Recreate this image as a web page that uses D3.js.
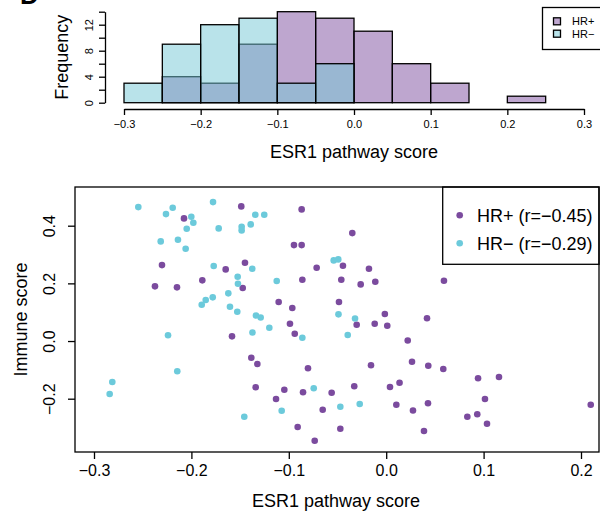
<!DOCTYPE html>
<html>
<head>
<meta charset="utf-8">
<script src="https://cdn.jsdelivr.net/npm/d3@7"></script>
<style>
  html, body { margin: 0; padding: 0; background: #fff; }
  svg { display: block; }
  text { font-family: "Liberation Sans", Arial, Helvetica, sans-serif; fill: #000; }
</style>
</head>
<body>
<svg id="chart" width="600" height="513"></svg>
<script>
// ---------- Histogram data (ESR1 pathway score, bin width 0.05) ----------
const binWidth = 0.05;
const hrPosBins   = [-0.25, -0.2, -0.15, -0.1, -0.05, 0, 0.05, 0.1, 0.15, 0.2];
const hrPosCounts = [4, 3, 9, 14, 13, 11, 6, 3, 0, 1];
const hrNegBins   = [-0.3, -0.25, -0.2, -0.15, -0.1, -0.05];
const hrNegCounts = [3, 9, 12, 13, 3, 6];
const histXTicks = [-0.3, -0.2, -0.1, 0, 0.1, 0.2, 0.3];
const histYTicks = [0, 2, 4, 6, 8, 10, 12, 14];
const histYLabels = [0, 4, 8, 12];

// ---------- Scatter data (ESR1 pathway score vs Immune score) ----------
const hrPosX = [-0.1488,-0.2076,-0.0868,-0.0348,-0.0947,-0.0868,-0.2302,-0.1648,-0.1450,-0.0444,
  -0.0714,-0.0177,-0.2374,-0.2148,-0.1888,-0.1473,-0.0861,-0.0461,-0.0262,-0.0112,
  -0.1104,-0.0964,-0.0485,-0.0014,0.0593,0.0419,0.0221,0.0265,0.0432,0.0586,
  0.0137,0.0943,0.1158,0.1014,0.0429,0.0275,0.0833,0.0935,0.1035,0.0388,
  0.2100,-0.0988,-0.0939,-0.0303,-0.0118,0.0011,-0.1385,-0.1323,-0.0803,-0.0156,
  -0.1340,-0.1046,-0.1131,-0.0854,-0.0560,-0.0328,-0.0652,0.0039,0.0104,-0.0909,
  -0.0471,-0.0734,-0.1583,0.0750];
const hrPosY = [0.4669,0.4253,0.4565,0.3743,0.3328,0.3328,0.2634,0.2485,0.2714,0.2610,
  0.2541,0.2506,0.1896,0.1861,0.2104,0.1837,0.2125,0.2125,0.1965,0.2055,
  0.1352,0.1144,0.1352,0.0936,0.2090,0.0790,0.0017,-0.0717,-0.0856,-0.0971,
  -0.1445,-0.1293,-0.1248,-0.2010,-0.2159,-0.2409,-0.2624,-0.2541,-0.2867,-0.3120,
  -0.2208,0.0600,0.0253,0.0565,0.0600,0.0530,-0.0579,-0.0797,-0.0946,-0.0842,
  -0.1605,-0.1688,-0.2010,-0.1778,-0.1792,-0.1570,-0.2381,-0.1594,-0.2208,-0.2981,
  -0.3040,-0.3456,0.0163,0.3300];
const hrNegX = [-0.2545,-0.2261,-0.2192,-0.1778,-0.2001,-0.1980,-0.2048,-0.1720,-0.1484,-0.1484,
  -0.1344,-0.1391,-0.1252,-0.2315,-0.2138,-0.2059,-0.1771,-0.1375,-0.1525,-0.1522,
  -0.1621,-0.1781,-0.1853,-0.1894,-0.1604,-0.1529,-0.1337,-0.1289,-0.1124,-0.0539,
  -0.0492,-0.0490,-0.0320,-0.1373,-0.1200,-0.0861,-0.0395,-0.1073,-0.0744,-0.0471,
  -0.0272,-0.2240,-0.2145,-0.2812,-0.2839,-0.1457];
const hrNegY = [0.4645,0.4402,0.4620,0.4818,0.4308,0.4100,0.3893,0.3906,0.3962,0.3837,
  0.4378,0.4045,0.4378,0.3456,0.3511,0.3199,0.2600,0.2506,0.2229,0.1986,
  0.1653,0.1515,0.1421,0.1258,0.1189,0.1016,0.0884,0.0815,0.2080,0.2797,
  0.2832,0.0925,0.0780,0.0295,0.0461,0.0114,0.0208,-0.2416,-0.1640,-0.2277,
  -0.2184,0.0198,-0.1050,-0.1421,-0.1837,-0.2624];
const scatterXTicks = [-0.3, -0.2, -0.1, 0, 0.1, 0.2];
const scatterYTicks = [-0.2, 0, 0.2, 0.4];
const legendLabels = ["HR+ (r=\u22120.45)", "HR\u2212 (r=\u22120.29)"];
const histLegendLabels = ["HR+", "HR\u2212"];

// ---------- Colours ----------
const histPosFill = "rgba(125,77,159,0.5)";
const histNegFill = "rgba(115,199,213,0.5)";
const ptPos = "#7b4b9e";
const ptNeg = "#6ccadb";

const svg = d3.select("#chart");
const fmt = d3.format(".1f");

// Panel label (cut off at top)
svg.append("text").attr("x", 20).attr("y", 4).attr("font-size", 26)
  .attr("font-weight", "bold").text("D");

// ================= HISTOGRAM =================
const hx = d3.scaleLinear([-0.3, 0.3], [124, 584]);
const hy = d3.scaleLinear([0, 14], [102.7, 11.7]);
const gh = svg.append("g");

const posData = hrPosBins.map((b, i) => ({x0: b, n: hrPosCounts[i]}));
const negData = hrNegBins.map((b, i) => ({x0: b, n: hrNegCounts[i]}));

gh.selectAll("rect.pos").data(posData).join("rect").attr("class", "pos")
  .attr("x", d => hx(d.x0)).attr("width", d => hx(d.x0 + binWidth) - hx(d.x0))
  .attr("y", d => hy(d.n)).attr("height", d => hy(0) - hy(d.n))
  .attr("fill", histPosFill).attr("stroke", "#000").attr("stroke-width", 1.3);
gh.selectAll("rect.neg").data(negData).join("rect").attr("class", "neg")
  .attr("x", d => hx(d.x0)).attr("width", d => hx(d.x0 + binWidth) - hx(d.x0))
  .attr("y", d => hy(d.n)).attr("height", d => hy(0) - hy(d.n))
  .attr("fill", histNegFill).attr("stroke", "#000").attr("stroke-width", 1.3);

// x axis
const hxAxis = gh.append("g").attr("transform", "translate(0,109)")
  .call(d3.axisBottom(hx).tickValues(histXTicks).tickFormat(fmt).tickSize(6).tickSizeOuter(0).tickPadding(5));
hxAxis.selectAll("path,line").attr("stroke", "#000").attr("stroke-width", 1.3);
hxAxis.selectAll("text").attr("font-size", 11).attr("font-family", null);

// y axis
const hyAxis = gh.append("g").attr("transform", "translate(105,0)")
  .call(d3.axisLeft(hy).tickValues(histYTicks)
    .tickFormat(d => histYLabels.includes(d) ? d3.format("d")(d) : "")
    .tickSize(6).tickSizeOuter(0));
hyAxis.selectAll("path,line").attr("stroke", "#000").attr("stroke-width", 1.3);
hyAxis.selectAll("text").attr("font-size", 11).attr("font-family", null)
  .attr("transform", "rotate(-90)").attr("x", 0).attr("y", -12).attr("dy", null)
  .attr("text-anchor", "middle");

gh.append("text").attr("x", 354).attr("y", 158).attr("text-anchor", "middle")
  .attr("font-size", 18).text("ESR1 pathway score");
gh.append("text").attr("transform", `translate(68,${(hy(0) + hy(14)) / 2}) rotate(-90)`)
  .attr("text-anchor", "middle").attr("font-size", 18).text("Frequency");

// hist legend
const hl = gh.append("g");
hl.append("rect").attr("x", 542.5).attr("y", 7.5).attr("width", 70).attr("height", 42)
  .attr("fill", "#fff").attr("stroke", "#000").attr("stroke-width", 1.3);
[histPosFill, histNegFill].forEach((c, i) => {
  const yy = 21.3 + i * 12.4;
  hl.append("rect").attr("x", 553.5).attr("y", yy - 3.5).attr("width", 7).attr("height", 7)
    .attr("fill", c).attr("stroke", "#000").attr("stroke-width", 1.3);
  hl.append("text").attr("x", 572).attr("y", yy + 4).attr("font-size", 11).text(histLegendLabels[i]);
});

// ================= SCATTER =================
const sx = d3.scaleLinear([-0.3, 0.2], [94, 581]);
const sy = d3.scaleLinear([-0.2, 0.4], [398.7, 225.7]);
const gs = svg.append("g");
const L = 75, R = 599, T = 187, B = 452;

const posPts = hrPosX.map((x, i) => ({x, y: hrPosY[i]}));
const negPts = hrNegX.map((x, i) => ({x, y: hrNegY[i]}));

gs.selectAll("circle.pos").data(posPts).join("circle").attr("class", "pos")
  .attr("cx", d => sx(d.x)).attr("cy", d => sy(d.y)).attr("r", 3.3).attr("fill", ptPos);
gs.selectAll("circle.neg").data(negPts).join("circle").attr("class", "neg")
  .attr("cx", d => sx(d.x)).attr("cy", d => sy(d.y)).attr("r", 3.3).attr("fill", ptNeg);

// legend (white background, hides anything underneath)
const lg = gs.append("g");
lg.append("rect").attr("x", 442.7).attr("y", T).attr("width", R - 442.7).attr("height", 77.3)
  .attr("fill", "#fff").attr("stroke", "#000").attr("stroke-width", 1.3);
[ptPos, ptNeg].forEach((c, i) => {
  const yy = 215.3 + i * 28;
  lg.append("circle").attr("cx", 459.7).attr("cy", yy).attr("r", 3.3).attr("fill", c);
  lg.append("text").attr("x", 477).attr("y", yy + 6.5).attr("font-size", 18).text(legendLabels[i]);
});

// box
gs.append("rect").attr("x", L).attr("y", T).attr("width", R - L).attr("height", B - T)
  .attr("fill", "none").attr("stroke", "#000").attr("stroke-width", 1.3);

// x axis
const sxAxis = gs.append("g").attr("transform", `translate(0,${B})`)
  .call(d3.axisBottom(sx).tickValues(scatterXTicks).tickFormat(fmt).tickSize(7).tickSizeOuter(0).tickPadding(6));
sxAxis.select("path").remove();
sxAxis.selectAll("line").attr("stroke", "#000").attr("stroke-width", 1.3);
sxAxis.selectAll("text").attr("font-size", 16).attr("font-family", null);

// y axis
const syAxis = gs.append("g").attr("transform", `translate(${L},0)`)
  .call(d3.axisLeft(sy).tickValues(scatterYTicks).tickFormat(fmt).tickSize(7).tickSizeOuter(0));
syAxis.select("path").remove();
syAxis.selectAll("line").attr("stroke", "#000").attr("stroke-width", 1.3);
syAxis.selectAll("text").attr("font-size", 16).attr("font-family", null)
  .attr("transform", "rotate(-90)").attr("x", 0).attr("y", -20).attr("dy", null)
  .attr("text-anchor", "middle");

gs.append("text").attr("x", (L + R) / 2 - 1).attr("y", 507).attr("text-anchor", "middle")
  .attr("font-size", 18).text("ESR1 pathway score");
gs.append("text").attr("transform", `translate(27,${(T + B) / 2}) rotate(-90)`)
  .attr("text-anchor", "middle").attr("font-size", 18).text("Immune score");
</script>
</body>
</html>
